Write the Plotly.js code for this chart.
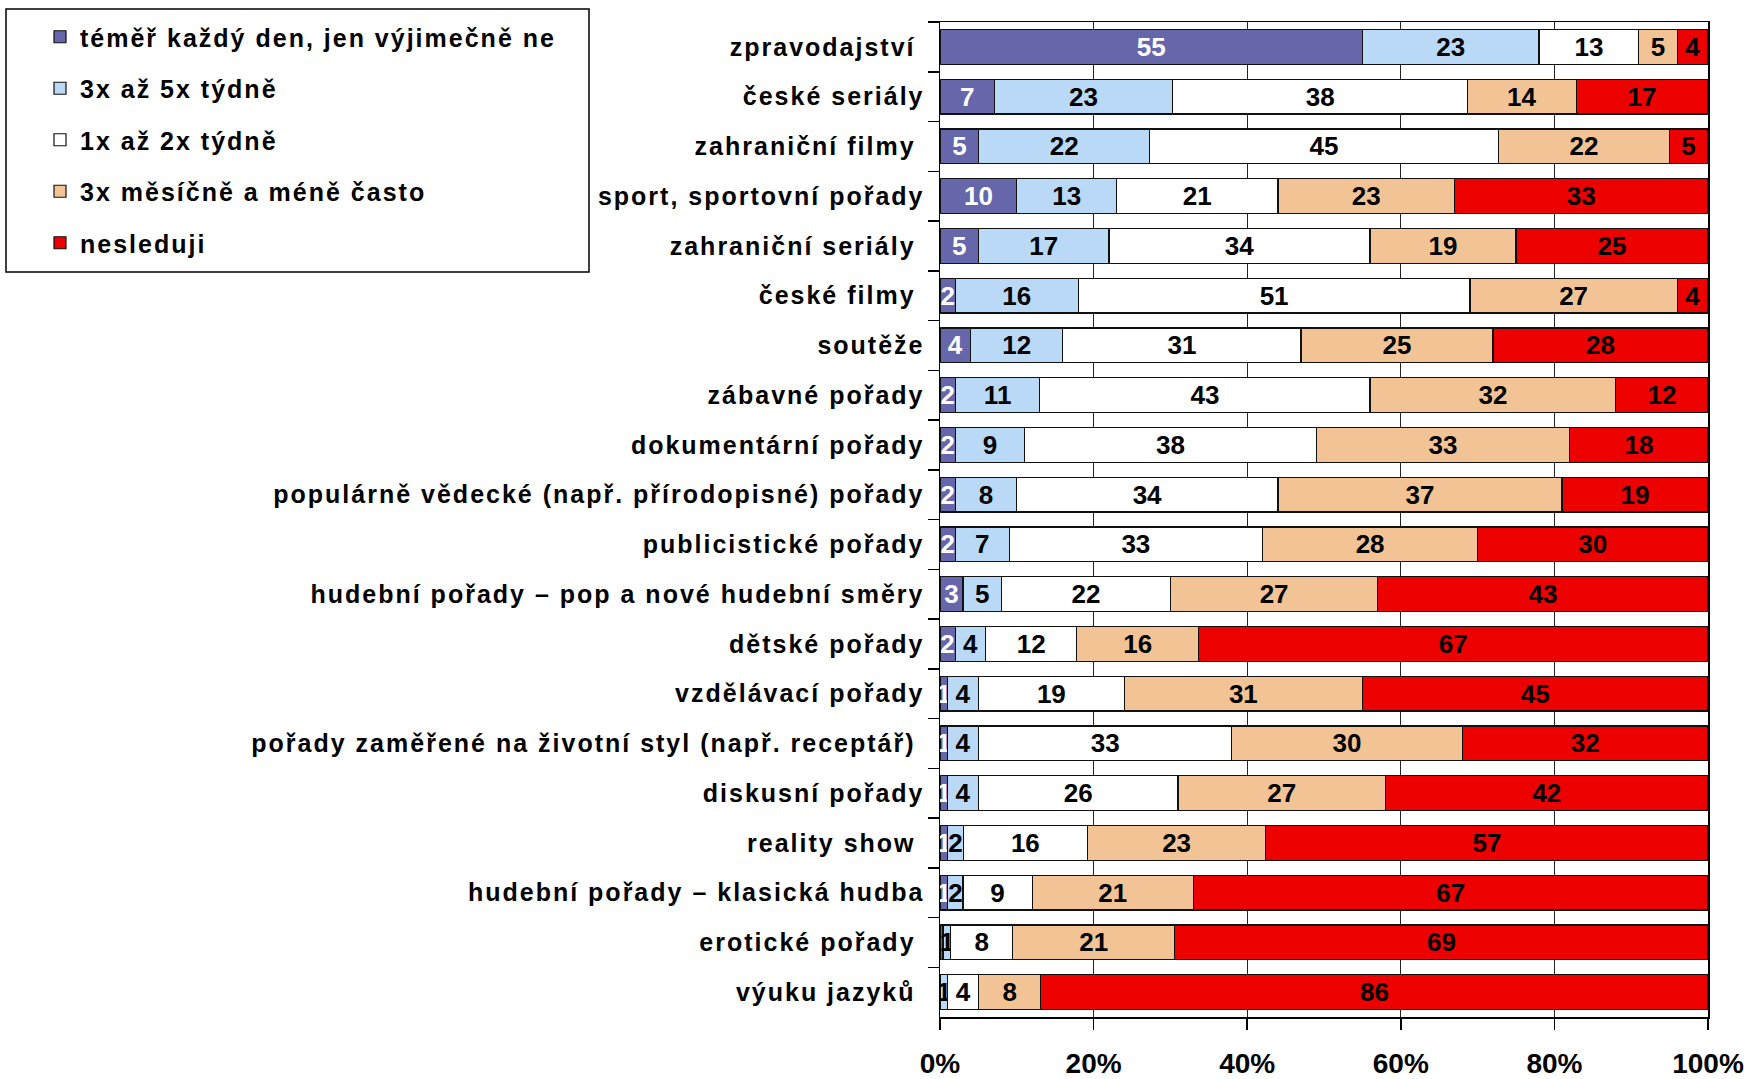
<!DOCTYPE html>
<html>
<head>
<meta charset="utf-8">
<script src="https://cdn.plot.ly/plotly-3.0.1.min.js"></script>
<style>
html,body{margin:0;padding:0;background:#fff;}
#chart{width:1749px;height:1079px;}
g.ytick text{letter-spacing:2px;}
text.legendtext{letter-spacing:2px;}
</style>
</head>
<body>
<div id="chart"></div>
<script>
const categories = [
  "zpravodajství\u00a0",
  "české seriály",
  "zahraniční filmy\u00a0",
  "sport, sportovní pořady",
  "zahraniční seriály\u00a0",
  "české filmy\u00a0",
  "soutěže",
  "zábavné pořady",
  "dokumentární pořady",
  "populárně vědecké (např. přírodopisné) pořady",
  "publicistické pořady",
  "hudební pořady – pop a nové hudební směry",
  "dětské pořady",
  "vzdělávací pořady",
  "pořady zaměřené na životní styl (např. receptář)\u00a0",
  "diskusní pořady",
  "reality show\u00a0",
  "hudební pořady – klasická hudba",
  "erotické pořady\u00a0",
  "výuku jazyků\u00a0"
];
const seriesNames = [
  "téměř každý den, jen výjimečně ne",
  "3x až 5x týdně",
  "1x až 2x týdně",
  "3x měsíčně a méně často",
  "nesleduji"
];
const dailyValues   = [55, 7, 5, 10, 5, 2, 4, 2, 2, 2, 2, 3, 2, 1, 1, 1, 1, 1, 0.4, 0];
const weekly35      = [23, 23, 22, 13, 17, 16, 12, 11, 9, 8, 7, 5, 4, 4, 4, 4, 2, 2, 1, 1];
const weekly12      = [13, 38, 45, 21, 34, 51, 31, 43, 38, 34, 33, 22, 12, 19, 33, 26, 16, 9, 8, 4];
const monthlyLess   = [5, 14, 22, 23, 19, 27, 25, 32, 33, 37, 28, 27, 16, 31, 30, 27, 23, 21, 21, 8];
const notWatching   = [4, 17, 5, 33, 25, 4, 28, 12, 18, 19, 30, 43, 67, 45, 32, 42, 57, 67, 69, 86];
const xTickVals = [0, 20, 40, 60, 80, 100];
const xTickText = ["0%", "20%", "40%", "60%", "80%", "100%"];

const seriesValues = [dailyValues, weekly35, weekly12, monthlyLess, notWatching];
const colors = ["#6666aa", "#b9d9f7", "#ffffff", "#f2c495", "#ec0000"];
const textColors = ["#ffffff", "#000000", "#000000", "#000000", "#000000"];

const FONT = "Liberation Sans, Arial, sans-serif";

const traces = seriesValues.map((vals, i) => ({
  type: "bar",
  orientation: "h",
  name: seriesNames[i],
  legendgroup: "g" + i,
  y: categories,
  x: vals,
  text: vals.map(v => v >= 1 ? String(v) : ""),
  textposition: "inside",
  insidetextanchor: "middle",
  textangle: 0,
  constraintext: "none",
  textfont: {family: FONT, size: 26, color: textColors[i], weight: "bold"},
  marker: {color: colors[i], line: {color: "#111111", width: 1.2}},
  hoverinfo: "skip"
}));

const layout = {
  width: 1749,
  height: 1079,
  margin: {l: 940, r: 41, t: 22, b: 62},
  paper_bgcolor: "#ffffff",
  plot_bgcolor: "#ffffff",
  barmode: "stack",
  barnorm: "percent",
  bargap: 0.3,
  showlegend: true,
  legend: {
    xref: "container", yref: "container",
    x: 40 / 1749, y: 1 - 14 / 1079,
    xanchor: "left", yanchor: "top",
    traceorder: "grouped",
    tracegroupgap: 16,
    bgcolor: "rgba(0,0,0,0)",
    borderwidth: 0,
    font: {family: FONT, size: 25, color: "#000", weight: "bold"}
  },
  xaxis: {
    range: [0, 100],
    tickvals: xTickVals,
    ticktext: xTickText,
    ticks: "outside",
    ticklen: 11,
    tickwidth: 1.5,
    tickcolor: "#000",
    showgrid: true,
    gridcolor: "#222",
    gridwidth: 1.2,
    showline: true,
    linecolor: "#000",
    linewidth: 1.5,
    mirror: true,
    zeroline: false,
    ticklabelstandoff: 10,
    tickfont: {family: FONT, size: 28, color: "#000", weight: "bold"},
    fixedrange: true
  },
  yaxis: {
    type: "category",
    autorange: "reversed",
    tickson: "boundaries",
    ticks: "outside",
    ticklen: 11,
    tickwidth: 1.5,
    tickcolor: "#000",
    showgrid: false,
    showline: true,
    linecolor: "#000",
    linewidth: 1.5,
    mirror: true,
    ticklabelstandoff: 9,
    tickfont: {family: FONT, size: 25, color: "#000", weight: "bold"},
    fixedrange: true
  },
  shapes: [{
    type: "rect",
    xref: "paper", yref: "paper",
    x0: (6 - 940) / 768, x1: (589 - 940) / 768,
    y0: (1017 - 9) / 995, y1: (1017 - 272) / 995,
    line: {color: "#000", width: 1.5},
    fillcolor: "rgba(0,0,0,0)",
    layer: "above"
  }],
  font: {family: FONT, color: "#000"}
};

Plotly.newPlot("chart", traces, layout, {staticPlot: true, displayModeBar: false});
</script>
</body>
</html>
